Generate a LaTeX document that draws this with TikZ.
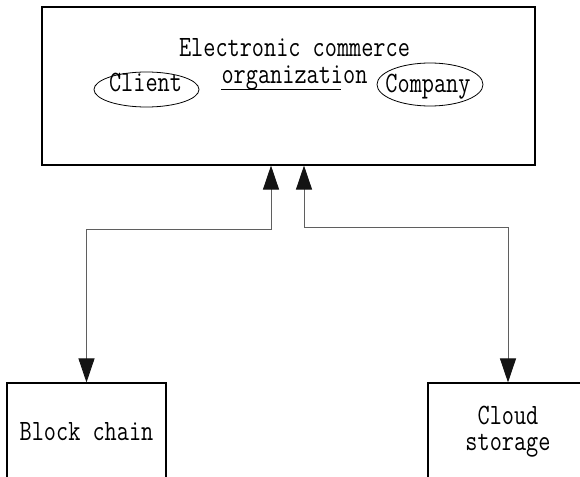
\documentclass[tikz,border=0pt]{standalone}
\usepackage{fontspec}
\usetikzlibrary{arrows.meta,positioning,calc}
\newfontfamily\simfont[FakeStretch=0.8]{Latin Modern Mono}
\definecolor{wire}{RGB}{95,95,95}
\definecolor{tip}{RGB}{20,20,20}
\tikzset{
  >={Triangle[length=24pt,width=16pt,color=tip]},
  txt/.style={font=\simfont\fontsize{29.5pt}{26pt}\selectfont,inner sep=0pt,align=center},
  frame/.style={draw=black,line width=1.1pt,minimum width=#1,minimum height=97pt,inner sep=0pt,
    font=\simfont\fontsize{29.5pt}{26pt}\selectfont,align=center},
  frame/.default=160pt,
  link/.style={<->,draw=wire,line width=0.9pt},
  oval/.style={draw=black,line width=0.8pt},
}

\begin{document}
\begin{tikzpicture}[x=1pt,y=1pt]
  \useasboundingbox (0,0) rectangle (580,-476);
  \clip (0,0) rectangle (580,-476);
  % top organization box
  \node[draw=black,line width=1.1pt,minimum width=493pt,minimum height=158pt,inner sep=0pt] (org) at (288.5,-86) {};
  \node[txt,anchor=base] (title) at (294.5,-57) {Electronic commerce};
  \node[txt,anchor=base] (orgtxt) at (294.5,-84) {organization};
  \draw[line width=0.8pt] ([yshift=-5pt]orgtxt.base west) -- ([xshift=-27pt,yshift=-5pt]orgtxt.base east);
  \node[txt,anchor=base] (client) at (145.5,-92) {Client};
  \node[txt,anchor=base] (company) at (428,-93) {Company};
  \draw[oval] (146.5,-89.5) ellipse (52.5 and 17.5);
  \draw[oval] (430,-84.5) ellipse (53 and 21.5);
  % storage side
  \node[frame=159pt] (chain) at (86.5,-431.5) {Block chain};
  \node[frame] (cloud) at (508,-431.5) {Cloud\\storage};
  \draw[link] (chain.north) -- ++(0,153) -| ([xshift=-17.5pt]org.south);
  \draw[link] (cloud.north) -- ++(0,155) -| ([xshift=15.5pt]org.south);
\end{tikzpicture}
\end{document}
